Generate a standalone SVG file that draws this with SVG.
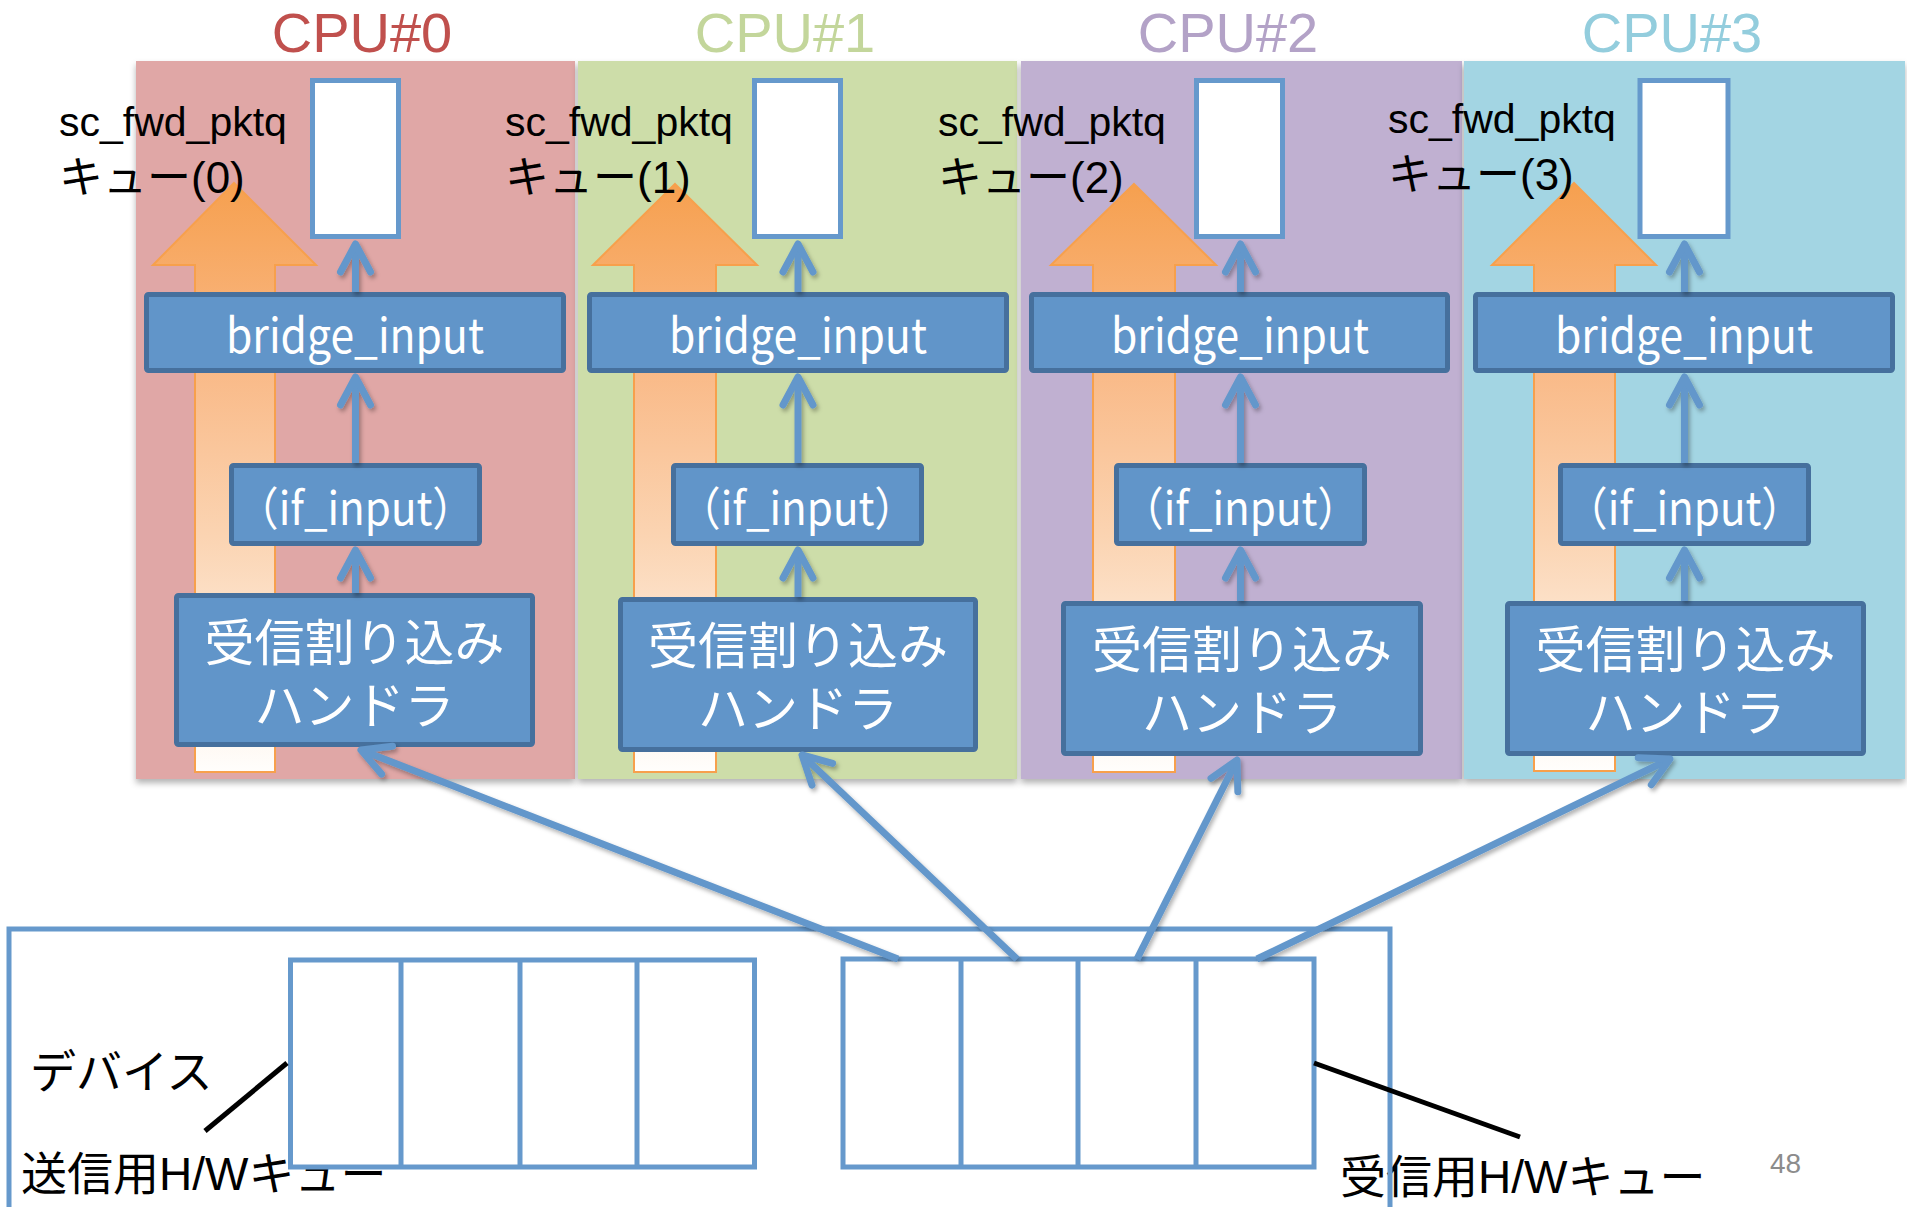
<svg xmlns="http://www.w3.org/2000/svg" width="1907" height="1207" viewBox="0 0 1907 1207">
<style>
.panel{stroke:none}
.title{font-family:"Liberation Sans","Noto Sans CJK JP",sans-serif;font-size:56px;text-anchor:middle}
.lbl{font-family:"Liberation Sans","Noto Sans CJK JP",sans-serif;font-size:41px;fill:#000}
.lbl2{font-family:"Liberation Sans","Noto Sans CJK JP",sans-serif;font-size:44px;fill:#000}
.big{font-family:"Liberation Sans","Noto Sans CJK JP",sans-serif;font-size:46px;fill:#000}
.queue{fill:#fff;stroke:#6699cc;stroke-width:5}
.box{fill:#6195c9;stroke:#46709d;stroke-width:5}
.btxt{font-family:"Noto Sans CJK JP",sans-serif;fill:#fff;text-anchor:middle}
.b48{font-size:47px}
.b46{font-size:46px}
.b50{font-size:50px}
.orange{fill:url(#og);stroke:#f7a04c;stroke-width:2}
.conn{fill:none;stroke:#6397cb;stroke-width:7;marker-end:url(#ah)}
.hw{fill:none;stroke:#6699cc;stroke-width:5}
.callout{stroke:#000;stroke-width:5;fill:none}
</style>
<defs>
<linearGradient id="og" x1="0" y1="0" x2="0" y2="1">
<stop offset="0" stop-color="#f6a04f"/>
<stop offset="0.3" stop-color="#f9b885"/>
<stop offset="0.6" stop-color="#fbd4b2"/>
<stop offset="1" stop-color="#fffefc"/>
</linearGradient>
<marker id="ah" markerUnits="userSpaceOnUse" markerWidth="60" markerHeight="60" refX="0" refY="0" orient="auto" overflow="visible">
<path d="M-28,-15 L0,0 L-28,15" fill="none" stroke="#6397cb" stroke-width="7" stroke-linecap="round" stroke-linejoin="round"/>
</marker>
<filter id="psh" x="-5%" y="-5%" width="110%" height="110%">
<feDropShadow dx="0" dy="4" stdDeviation="3" flood-color="#000" flood-opacity="0.3"/>
</filter>
<filter id="csh" x="-10%" y="-10%" width="120%" height="120%">
<feDropShadow dx="2" dy="3" stdDeviation="2" flood-color="#000" flood-opacity="0.3"/>
</filter>
</defs>
<rect x="0" y="0" width="1907" height="1207" fill="#fff"/>

<g id="cpu0">
<rect class="panel" x="136" y="61" width="439" height="718" fill="#e0a7a6" filter="url(#psh)"/>
<text class="title" x="362" y="52" fill="#c0504d">CPU#0</text>
<polygon class="orange" points="234,183 316,265 275,265 275,772 195,772 195,265 153,265"/>
<g id="cpu0-queue"><rect class="queue" x="312.5" y="80.5" width="86" height="156"/></g>
<g id="cpu0-bridge"><rect class="box" x="146.5" y="294.5" width="417" height="76" rx="2"/><text class="btxt b48" x="355" y="353" textLength="258" lengthAdjust="spacingAndGlyphs">bridge_input</text></g>
<g id="cpu0-ifinput"><rect class="box" x="231.5" y="465.5" width="248" height="78" rx="2"/><text class="btxt b46" x="355.5" y="525" textLength="238" lengthAdjust="spacingAndGlyphs">（if_input）</text></g>
<g id="cpu0-handler"><rect class="box" x="176.5" y="595.5" width="356" height="149" rx="2"/><text class="btxt b50" x="354.5" y="661">受信割り込み<tspan x="354.5" dy="63">ハンドラ</tspan></text></g>
<text class="lbl" x="59" y="136">sc_fwd_pktq</text>
<text class="lbl2" x="59" y="193">キュー(0)</text>
</g>

<g id="cpu1">
<rect class="panel" x="578" y="61" width="439" height="718" fill="#cddda9" filter="url(#psh)"/>
<text class="title" x="785" y="52" fill="#c3d69b">CPU#1</text>
<polygon class="orange" points="675,184 757,265 716,265 716,772 634,772 634,265 593,265"/>
<g id="cpu1-queue"><rect class="queue" x="754.5" y="80.5" width="86" height="156"/></g>
<g id="cpu1-bridge"><rect class="box" x="589.5" y="294.5" width="417" height="76" rx="2"/><text class="btxt b48" x="798" y="353" textLength="258" lengthAdjust="spacingAndGlyphs">bridge_input</text></g>
<g id="cpu1-ifinput"><rect class="box" x="673.5" y="465.5" width="248" height="78" rx="2"/><text class="btxt b46" x="797.5" y="525" textLength="238" lengthAdjust="spacingAndGlyphs">（if_input）</text></g>
<g id="cpu1-handler"><rect class="box" x="620.5" y="599.5" width="355" height="150" rx="2"/><text class="btxt b50" x="798" y="664">受信割り込み<tspan x="798" dy="63">ハンドラ</tspan></text></g>
<text class="lbl" x="505" y="136">sc_fwd_pktq</text>
<text class="lbl2" x="505" y="193">キュー(1)</text>
</g>

<g id="cpu2">
<rect class="panel" x="1021" y="61" width="441" height="718" fill="#c0b0d1" filter="url(#psh)"/>
<text class="title" x="1228" y="52" fill="#b3a2c7">CPU#2</text>
<polygon class="orange" points="1134,184 1216,265 1175,265 1175,772 1093,772 1093,265 1051,265"/>
<g id="cpu2-queue"><rect class="queue" x="1196.5" y="80.5" width="86" height="156"/></g>
<g id="cpu2-bridge"><rect class="box" x="1031.5" y="294.5" width="416" height="76" rx="2"/><text class="btxt b48" x="1240" y="353" textLength="258" lengthAdjust="spacingAndGlyphs">bridge_input</text></g>
<g id="cpu2-ifinput"><rect class="box" x="1116.5" y="465.5" width="248" height="78" rx="2"/><text class="btxt b46" x="1240.5" y="525" textLength="238" lengthAdjust="spacingAndGlyphs">（if_input）</text></g>
<g id="cpu2-handler"><rect class="box" x="1063.5" y="603.5" width="357" height="150" rx="2"/><text class="btxt b50" x="1242" y="668">受信割り込み<tspan x="1242" dy="63">ハンドラ</tspan></text></g>
<text class="lbl" x="938" y="136">sc_fwd_pktq</text>
<text class="lbl2" x="938" y="193">キュー(2)</text>
</g>

<g id="cpu3">
<rect class="panel" x="1464" y="61" width="441" height="718" fill="#a3d5e3" filter="url(#psh)"/>
<text class="title" x="1672" y="52" fill="#93cddd">CPU#3</text>
<polygon class="orange" points="1574,183 1656,265 1615,265 1615,771 1534,771 1534,265 1492,265"/>
<g id="cpu3-queue"><rect class="queue" x="1640" y="80.5" width="88" height="156"/></g>
<g id="cpu3-bridge"><rect class="box" x="1475.5" y="294.5" width="417" height="76" rx="2"/><text class="btxt b48" x="1684" y="353" textLength="258" lengthAdjust="spacingAndGlyphs">bridge_input</text></g>
<g id="cpu3-ifinput"><rect class="box" x="1560.5" y="465.5" width="248" height="78" rx="2"/><text class="btxt b46" x="1684.5" y="525" textLength="238" lengthAdjust="spacingAndGlyphs">（if_input）</text></g>
<g id="cpu3-handler"><rect class="box" x="1507.5" y="603.5" width="356" height="150" rx="2"/><text class="btxt b50" x="1685.5" y="668">受信割り込み<tspan x="1685.5" dy="63">ハンドラ</tspan></text></g>
<text class="lbl" x="1388" y="133">sc_fwd_pktq</text>
<text class="lbl2" x="1388" y="190">キュー(3)</text>
</g>

<g id="device">
<text class="big" x="30" y="1088" font-size="44">デバイス</text>
<text class="big" x="21" y="1190">送信用H/Wキュー</text>
<text class="big" x="1340" y="1193">受信用H/Wキュー</text>
<text x="1770" y="1173" font-family="Liberation Sans, sans-serif" font-size="28" fill="#8c8c8c">48</text>
<rect class="hw" x="9" y="929" width="1381" height="320"/>
<g id="tx-queue">
<rect class="hw" x="290.5" y="960" width="464" height="207"/>
<path class="hw" d="M401,960V1167M520,960V1167M637,960V1167"/>
</g>
<g id="rx-queue">
<rect class="hw" x="843" y="959" width="471" height="208"/>
<path class="hw" d="M961,959V1167M1078,959V1167M1196,959V1167"/>
</g>
<line class="callout" x1="205" y1="1131" x2="287" y2="1063"/>
<line class="callout" x1="1314" y1="1063" x2="1520" y2="1137"/>
</g>

<g id="connectors" filter="url(#csh)">
<path class="conn" d="M355.5,292V244"/>
<path class="conn" d="M355.5,463V377"/>
<path class="conn" d="M355.5,593V550"/>
<path class="conn" d="M798,292V244"/>
<path class="conn" d="M798,463V377"/>
<path class="conn" d="M798,597V550"/>
<path class="conn" d="M1240.5,292V244"/>
<path class="conn" d="M1240.5,463V377"/>
<path class="conn" d="M1240.5,601V550"/>
<path class="conn" d="M1684.5,292V244"/>
<path class="conn" d="M1684.5,463V377"/>
<path class="conn" d="M1684.5,601V550"/>
<path class="conn" d="M898,959L361,750"/>
<path class="conn" d="M1017,959L802,755"/>
<path class="conn" d="M1137,959L1237,760"/>
<path class="conn" d="M1257,959L1670,759"/>
</g>
</svg>
